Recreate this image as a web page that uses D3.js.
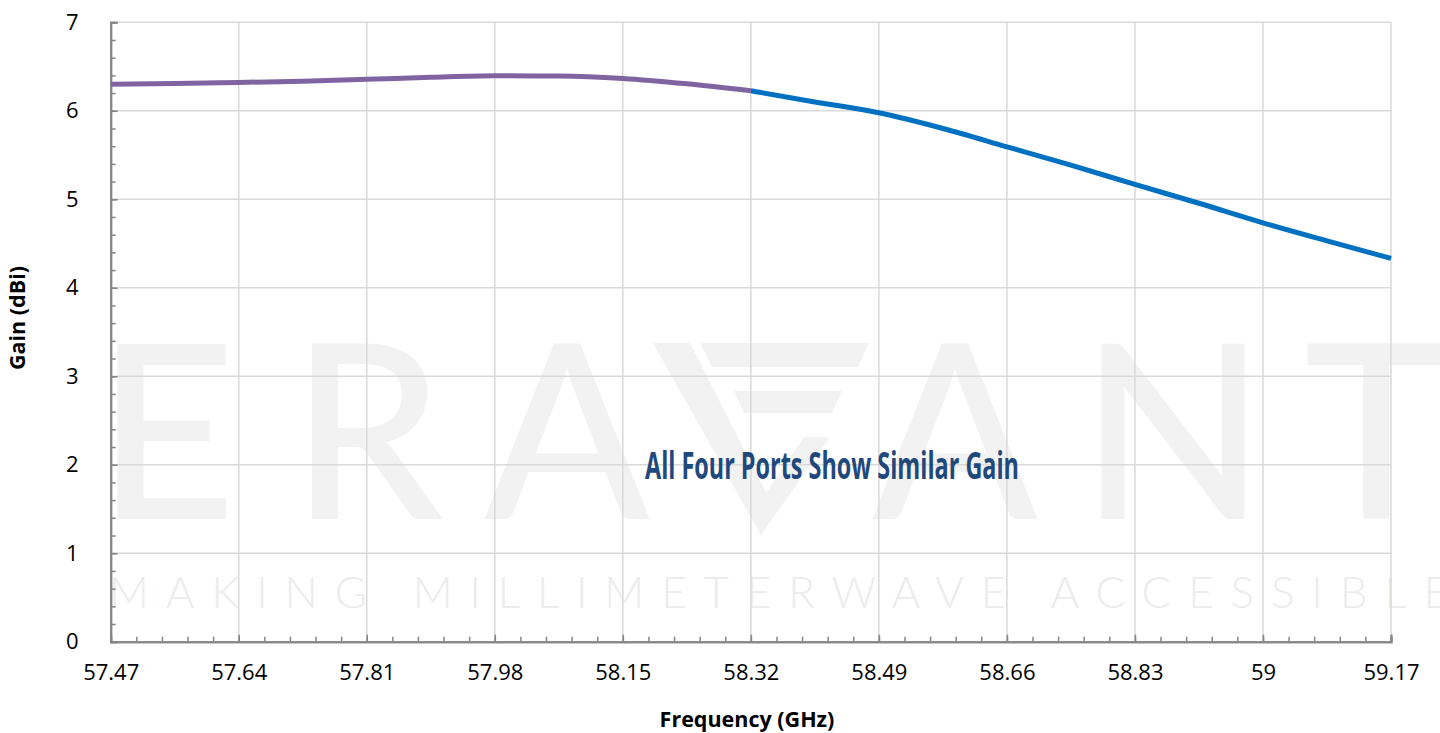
<!DOCTYPE html>
<html>
<head>
<meta charset="utf-8">
<script src="https://cdn.jsdelivr.net/npm/d3@7"></script>
<style>
  html, body { margin: 0; padding: 0; background: #fff; }
  svg { display: block; }
</style>
</head>
<body>
<svg id="chart" width="1440" height="733"></svg>
<script>
// ---------- data ----------
const xTicks = [57.47, 57.64, 57.81, 57.98, 58.15, 58.32, 58.49, 58.66, 58.83, 59.00, 59.17];
const xTickLabels = ["57.47", "57.64", "57.81", "57.98", "58.15", "58.32", "58.49", "58.66", "58.83", "59", "59.17"];
const yTicks = [0, 1, 2, 3, 4, 5, 6, 7];

const purpleFreq = [57.47, 57.555, 57.64, 57.725, 57.81, 57.895, 57.98, 58.065, 58.15, 58.235, 58.32];
const purpleGain = [6.30, 6.307, 6.32, 6.335, 6.355, 6.378, 6.395, 6.393, 6.366, 6.305, 6.226];

const blueFreq = [58.32, 58.405, 58.49, 58.575, 58.66, 58.745, 58.83, 58.915, 59.00, 59.085, 59.17];
const blueGain = [6.226, 6.10, 5.977, 5.80, 5.593, 5.385, 5.168, 4.955, 4.734, 4.53, 4.332];

const annotation = "All Four Ports Show Similar Gain";
const xTitle = "Frequency (GHz)";
const yTitle = "Gain (dBi)";

// ---------- layout ----------
const svg = d3.select("#chart");
const pL = 110.7, pR = 1391, pT = 22.3, pB = 641.7;

const x = d3.scaleLinear().domain([57.47, 59.17]).range([pL, pR]);
const y = d3.scaleLinear().domain([0, 7]).range([pB, pT]);

// ---------- watermark ----------
const wm = svg.append("g").attr("fill", "#f2f2f2");
const bigLetters = [["E", 166], ["R", 367], ["A", 567], ["A", 955], ["N", 1173], ["T", 1376]];
bigLetters.forEach(([ch, cx]) => {
  wm.append("text").attr("x", cx).attr("y", 519)
    .attr("text-anchor", "middle")
    .attr("font-family", "Lato, 'Open Sans', sans-serif")
    .attr("font-weight", 500)
    .attr("font-size", 243)
    .text(ch);
});
const vPolys = [
  [[653,343],[690,343],[776,512],[761,535]],
  [[700,343],[869,343],[858,367],[712,367]],
  [[734,391],[842,391],[832,413],[744,413]],
  [[804,437],[830,437],[761,535],[752,514]]
];
vPolys.forEach(p => wm.append("polygon").attr("points", p.map(d => d.join(",")).join(" ")));
svg.append("text").attr("x", 109).attr("y", 608)
  .attr("font-family", "Lato, 'Open Sans', sans-serif")
  .attr("font-weight", 300)
  .attr("font-size", 44)
  .attr("fill", "#ececec")
  .attr("textLength", 1340).attr("lengthAdjust", "spacing")
  .text("MAKING MILLIMETERWAVE ACCESSIBLE");

// ---------- grid ----------
const grid = svg.append("g").attr("stroke", "#d9d9d9").attr("stroke-width", 1.5);
xTicks.slice(1).forEach(v => grid.append("line")
  .attr("x1", x(v)).attr("x2", x(v)).attr("y1", pT).attr("y2", pB));
yTicks.slice(1).forEach(v => grid.append("line")
  .attr("x1", pL).attr("x2", pR).attr("y1", y(v)).attr("y2", y(v)));

// ---------- axes ----------
const axisColor = "#868686";
const minorX = d3.range(0, 51).map(i => 57.47 + i * 0.034);
const minorY = d3.range(0, 36).map(i => i * 0.2);

const xAxis = svg.append("g").attr("transform", `translate(0,${pB})`)
  .call(d3.axisBottom(x).tickValues(xTicks).tickSize(-7).tickPadding(23)
        .tickFormat((d, i) => xTickLabels[i]));
const xMinor = svg.append("g").attr("transform", `translate(0,${pB})`)
  .call(d3.axisBottom(x).tickValues(minorX).tickSize(-5).tickFormat(""));
const yAxis = svg.append("g").attr("transform", `translate(${pL},0)`)
  .call(d3.axisLeft(y).tickValues(yTicks).tickSize(-7).tickPadding(32)
        .tickFormat(d3.format("d")));
const yMinor = svg.append("g").attr("transform", `translate(${pL},0)`)
  .call(d3.axisLeft(y).tickValues(minorY).tickSize(-5).tickFormat(""));

[xAxis, xMinor, yAxis, yMinor].forEach(g => {
  g.selectAll(".domain").attr("stroke", axisColor).attr("stroke-width", 2);
  g.selectAll(".tick line").attr("stroke", axisColor).attr("stroke-width", 1.5);
});
[xAxis, yAxis].forEach(g => g.selectAll(".tick text")
  .attr("font-family", "'Open Sans', sans-serif")
  .attr("font-size", 22).attr("fill", "#000"));
xAxis.selectAll(".tick text").attr("dy", "0.71em");

// ---------- lines ----------
const line = d3.line().x(d => x(d[0])).y(d => y(d[1])).curve(d3.curveMonotoneX);
svg.append("path").datum(blueFreq.map((f, i) => [f, blueGain[i]]))
  .attr("d", line).attr("fill", "none").attr("stroke", "#0070c0").attr("stroke-width", 5);
svg.append("path").datum(purpleFreq.map((f, i) => [f, purpleGain[i]]))
  .attr("d", line).attr("fill", "none").attr("stroke", "#8064a2").attr("stroke-width", 5);

// ---------- annotation ----------
svg.append("text").attr("x", 645).attr("y", 479)
  .attr("font-family", "'Open Sans', sans-serif")
  .attr("font-weight", 700).attr("font-size", 37)
  .attr("fill", "#1f497d")
  .attr("textLength", 374).attr("lengthAdjust", "spacingAndGlyphs")
  .text(annotation);

// ---------- titles ----------
svg.append("text").attr("x", 747).attr("y", 727)
  .attr("text-anchor", "middle")
  .attr("font-family", "'Open Sans', sans-serif")
  .attr("font-weight", 700).attr("font-size", 21.5)
  .attr("fill", "#000").text(xTitle);
svg.append("text").attr("transform", "translate(25,318) rotate(-90)")
  .attr("text-anchor", "middle")
  .attr("font-family", "'Open Sans', sans-serif")
  .attr("font-weight", 700).attr("font-size", 21.5)
  .attr("fill", "#000").text(yTitle);
</script>
</body>
</html>
